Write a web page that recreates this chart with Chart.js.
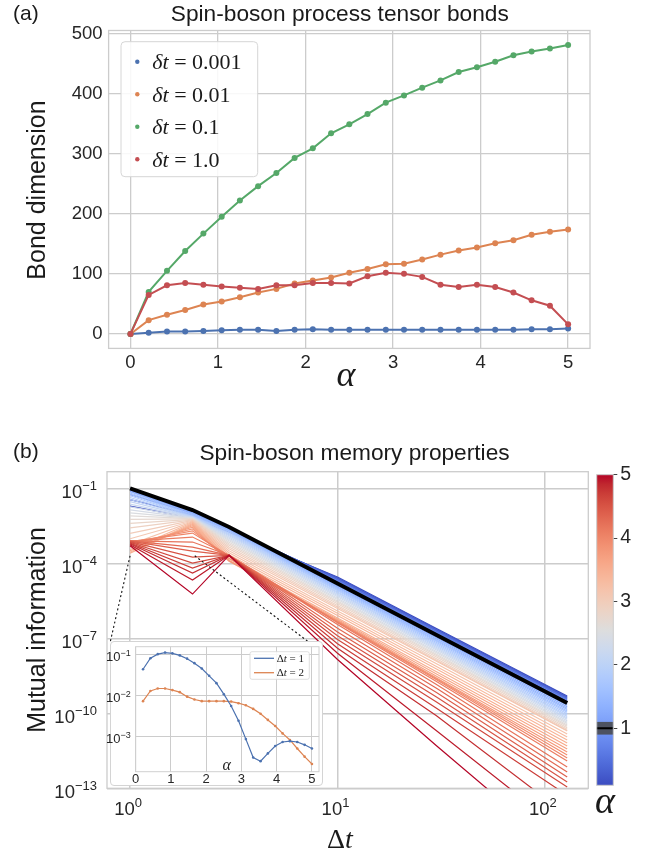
<!DOCTYPE html>
<html>
<head>
<meta charset="utf-8">
<title>Spin-boson process tensor</title>
<script src="https://cdn.jsdelivr.net/npm/chart.js@4.4.1/dist/chart.umd.min.js"></script>
<style>
  html, body { margin: 0; padding: 0; background: #fff; }
  body { position: relative; width: 652px; height: 860px; overflow: hidden; color: #1a1a1a; }
  canvas { position: absolute; }
  .txt { position: absolute; white-space: nowrap; }
  #insetBox { position: absolute; left: 110px; top: 641px; width: 213px; height: 145px;
              background: #fff; border: 1px solid #d4d4d4; border-radius: 4px; box-sizing: border-box; }
</style>
</head>
<body>
<canvas id="bondChart" width="652" height="400" style="left:0;top:0"></canvas>
<canvas id="memoryChart" width="652" height="440" style="left:0;top:420px"></canvas>
<canvas id="alphaBar" width="62" height="340" style="left:590px;top:460px"></canvas>
<div id="insetBox"></div>
<canvas id="insetChart" width="219" height="145" style="left:104px;top:641px"></canvas>

<script>
// ---------- panel (a): bond dimensions ----------
const alphaBond = [0, 0.208, 0.417, 0.625, 0.833, 1.042, 1.25, 1.458, 1.667, 1.875, 2.083, 2.292, 2.5,
                   2.708, 2.917, 3.125, 3.333, 3.542, 3.75, 3.958, 4.167, 4.375, 4.583, 4.792, 5.0];
const bondDt0001 = [0, 2, 4, 4, 5, 6, 7, 7, 5, 7, 8, 7, 7, 7, 7, 7, 7, 7, 7, 7, 7, 7, 8, 8, 9];
const bondDt001  = [0, 23, 32, 40, 49, 54, 61, 69, 75, 84, 89, 94, 102, 108, 116, 117, 124, 132, 139, 144, 151, 156, 165, 170, 174];
const bondDt01   = [0, 70, 105, 138, 167, 195, 222, 246, 268, 293, 309, 334, 349, 366, 385, 397, 410, 422, 436, 444, 453, 464, 470, 475, 481];
const bondDt1    = [0, 65, 81, 85, 82, 79, 77, 75, 81, 81, 85, 85, 84, 96, 102, 100, 95, 82, 78, 82, 78, 69, 56, 47, 16];
const bondLabels = ['0.001', '0.01', '0.1', '1.0'];
const bondTicksX = [0, 1, 2, 3, 4, 5];
const bondTicksY = [0, 100, 200, 300, 400, 500];

// ---------- panel (b): mutual information vs Δt, one line per α (log10 values) ----------
const alphaLines = [0.1, 0.2, 0.3, 0.4, 0.5, 0.6, 0.7, 0.8, 0.9, 1.0,
                    1.1, 1.2, 1.3, 1.4, 1.5, 1.6, 1.7, 1.8, 1.9, 2.0,
                    2.1, 2.2, 2.3, 2.4, 2.5, 2.6, 2.7, 2.8, 2.9, 3.0,
                    3.1, 3.2, 3.3, 3.4, 3.5, 3.6, 3.7, 3.8, 3.9, 4.0,
                    4.1, 4.2, 4.3, 4.4, 4.5, 4.6, 4.7, 4.8, 4.9, 5.0];
const deltaT = [1, 2, 3, 10, 30, 128];
const logMI_dt1 = [-1.71, -1.45, -1.25, -1.12, -1.05, -1.02, -1.01, -1.00, -1.00, -1.00,
                   -1.02, -1.04, -1.07, -1.10, -1.14, -1.19, -1.24, -1.30, -1.37, -1.45,
                   -1.53, -1.63, -1.74, -1.86, -1.98, -2.10, -2.24, -2.40, -2.58, -2.80,
                   -3.02, -3.25, -3.45, -3.56, -3.60, -3.50, -3.35, -3.25, -3.17, -3.13,
                   -3.11, -3.10, -3.10, -3.11, -3.13, -3.16, -3.19, -3.22, -3.26, -3.30];
const logMI_dt2 = [-2.19, -2.07, -1.99, -1.95, -1.92, -1.90, -1.89, -1.88, -1.87, -1.87,
                   -1.90, -1.93, -1.97, -2.00, -2.04, -2.07, -2.10, -2.12, -2.14, -2.15,
                   -2.16, -2.17, -2.18, -2.19, -2.20, -2.21, -2.22, -2.24, -2.26, -2.28,
                   -2.31, -2.34, -2.37, -2.41, -2.45, -2.50, -2.56, -2.62, -2.70, -2.79,
                   -2.95, -3.15, -3.35, -3.51, -3.75, -3.99, -4.19, -4.39, -4.67, -5.23];
const logMI_dt3 = [-2.75, -2.68, -2.63, -2.60, -2.58, -2.57, -2.56, -2.56, -2.55, -2.55,
                   -2.58, -2.60, -2.62, -2.65, -2.68, -2.71, -2.74, -2.78, -2.82, -2.86,
                   -2.90, -2.95, -3.00, -3.05, -3.10, -3.16, -3.22, -3.28, -3.35, -3.42,
                   -3.50, -3.58, -3.66, -3.74, -3.82, -3.88, -3.92, -3.90, -3.80, -3.70,
                   -3.68, -3.68, -3.68, -3.68, -3.68, -3.68, -3.68, -3.68, -3.68, -3.68];
const logMI_dt10 = [-4.55, -4.58, -4.61, -4.64, -4.67, -4.70, -4.73, -4.76, -4.79, -4.81,
                    -4.84, -4.87, -4.91, -4.95, -4.98, -5.02, -5.06, -5.10, -5.15, -5.19,
                    -5.24, -5.29, -5.34, -5.40, -5.45, -5.51, -5.56, -5.62, -5.69, -5.75,
                    -5.81, -5.91, -6.00, -6.09, -6.19, -6.24, -6.28, -6.31, -6.33, -6.35,
                    -6.38, -6.45, -6.60, -6.75, -6.90, -7.05, -7.22, -7.40, -7.60, -7.85];
const logMI_dt30 = [-6.61, -6.64, -6.67, -6.70, -6.73, -6.76, -6.79, -6.82, -6.85, -6.87,
                    -6.90, -6.94, -6.98, -7.03, -7.08, -7.12, -7.17, -7.22, -7.27, -7.32,
                    -7.37, -7.42, -7.47, -7.53, -7.58, -7.64, -7.69, -7.75, -7.82, -7.88,
                    -7.92, -8.02, -8.13, -8.23, -8.34, -8.43, -8.52, -8.59, -8.62, -8.66,
                    -8.73, -8.85, -9.00, -9.17, -9.35, -9.55, -9.80, -10.10, -10.70, -11.30];
const logMI_dt128 = [-9.31, -9.34, -9.37, -9.40, -9.43, -9.46, -9.50, -9.53, -9.56, -9.59,
                     -9.63, -9.68, -9.74, -9.80, -9.85, -9.91, -9.96, -10.02, -10.08, -10.13,
                     -10.19, -10.24, -10.30, -10.36, -10.41, -10.47, -10.52, -10.58, -10.64, -10.69,
                     -10.71, -10.83, -10.95, -11.07, -11.19, -11.31, -11.43, -11.55, -11.67, -11.79,
                     -11.91, -12.15, -12.35, -12.55, -12.75, -12.95, -13.28, -14.07, -14.82, -15.73];
const memTicksX = [1, 10, 100];
const memTicksY = [1e-13, 1e-10, 1e-7, 1e-4, 1e-1];
const highlightAlpha = 1.0;

// ---------- inset: MI vs α at Δt = 1, 2 (log10 values) ----------
const alphaInset = [0.208, 0.417, 0.625, 0.833, 1.042, 1.25, 1.458, 1.667, 1.875, 2.083, 2.292, 2.5,
                    2.708, 2.917, 3.125, 3.333, 3.542, 3.75, 3.958, 4.167, 4.375, 4.583, 4.792, 5.0];
const logInsetDt1 = [-1.35, -1.08, -0.98, -0.94, -0.96, -1.01, -1.09, -1.20, -1.33, -1.51, -1.69, -1.96,
                     -2.25, -2.61, -3.06, -3.51, -3.60, -3.41, -3.23, -3.13, -3.11, -3.13, -3.20, -3.29];
const logInsetDt2 = [-2.13, -1.88, -1.82, -1.82, -1.86, -1.91, -2.02, -2.09, -2.13, -2.13, -2.13, -2.13,
                     -2.14, -2.18, -2.23, -2.32, -2.44, -2.59, -2.74, -2.92, -3.08, -3.29, -3.49, -3.67];
const insetTicksX = [0, 1, 2, 3, 4, 5];
const insetTicksY = [1e-3, 1e-2, 1e-1];
const colorbarTicks = [1, 2, 3, 4, 5];

// ---------- styling helpers ----------
const SANS = '"Liberation Sans", Arial, Helvetica, sans-serif';
const SERIF = '"Liberation Serif", "Times New Roman", serif';
const GRID = '#cccccc';
const INK = '#262626';
const deep = { blue: '#4c72b0', orange: '#dd8452', green: '#55a868', red: '#c44e52' };

// matplotlib coolwarm, 33 stops
const coolwarmStops = [
  [59,76,192],[68,90,204],[77,104,215],[87,117,225],[98,130,234],[108,142,241],[119,154,247],[130,165,251],
  [141,176,254],[152,185,255],[163,194,255],[174,201,253],[184,208,249],[194,213,244],[204,217,238],[213,219,230],
  [221,221,221],[229,216,209],[236,211,197],[241,204,185],[245,196,173],[247,187,160],[247,177,148],[247,166,135],
  [244,154,123],[241,141,111],[236,127,99],[229,112,88],[222,96,77],[213,80,66],[203,62,56],[192,40,47],[180,4,38]
];
function coolwarm(t) {
  t = Math.min(1, Math.max(0, t));
  const p = t * (coolwarmStops.length - 1);
  const i = Math.min(Math.floor(p), coolwarmStops.length - 2);
  const f = p - i;
  const a = coolwarmStops[i], b = coolwarmStops[i + 1];
  const c = a.map((v, k) => Math.round(v + (b[k] - v) * f));
  return `rgb(${c[0]},${c[1]},${c[2]})`;
}
const alphaMin = 0.1, alphaMax = 5;

// html text placed by baseline
function addText(html, x, baseline, size, opts = {}) {
  const d = document.createElement('div');
  d.className = 'txt';
  d.innerHTML = html;
  const serif = !!opts.serif;
  d.style.fontFamily = serif ? SERIF : SANS;
  d.style.fontSize = size + 'px';
  d.style.lineHeight = size + 'px';
  d.style.color = opts.color || '#1a1a1a';
  d.style.top = (baseline - size * (serif ? 0.8375 : 0.8465)) + 'px';
  d.style.left = x + 'px';
  if (opts.center) d.style.transform = 'translateX(-50%)';
  document.body.appendChild(d);
}
function addVText(text, cx, cy, size) {
  const d = document.createElement('div');
  d.className = 'txt';
  d.textContent = text;
  d.style.fontFamily = SANS;
  d.style.fontSize = size + 'px';
  d.style.lineHeight = size + 'px';
  d.style.left = cx + 'px';
  d.style.top = cy + 'px';
  d.style.transform = 'translate(-50%, -50%) rotate(-90deg)';
  document.body.appendChild(d);
}

// "10" with a superscript exponent
function drawPow(ctx, exp, x, baseline, align, big, small, raise) {
  ctx.font = `${big}px ${SANS}`;
  const w1 = ctx.measureText('10').width;
  ctx.font = `${small}px ${SANS}`;
  const expText = exp < 0 ? '\u2212' + Math.abs(exp) : String(exp);
  const w2 = ctx.measureText(expText).width;
  let x0 = x;
  if (align === 'right') x0 = x - w1 - w2;
  if (align === 'center') x0 = x - (w1 + w2) / 2;
  ctx.textAlign = 'left';
  ctx.textBaseline = 'alphabetic';
  ctx.font = `${big}px ${SANS}`;
  ctx.fillText('10', x0, baseline);
  ctx.font = `${small}px ${SANS}`;
  ctx.fillText(expText, x0 + w1, baseline - raise);
}

const framePlugin = {
  id: 'frame',
  beforeDatasetsDraw(chart, args, opts) {
    const { ctx, chartArea: a } = chart;
    ctx.save();
    ctx.strokeStyle = opts.color || GRID;
    ctx.lineWidth = opts.width || 1.3;
    ctx.strokeRect(a.left, a.top, a.right - a.left, a.bottom - a.top);
    ctx.restore();
  }
};

// ---------- chart (a) ----------
const bondSeries = [
  { values: bondDt0001, color: deep.blue },
  { values: bondDt001, color: deep.orange },
  { values: bondDt01, color: deep.green },
  { values: bondDt1, color: deep.red }
];

const bondLegend = {
  id: 'bondLegend',
  afterDraw(chart) {
    const ctx = chart.ctx;
    ctx.save();
    ctx.beginPath();
    ctx.roundRect(121, 41.7, 136.7, 135, 4);
    ctx.fillStyle = 'rgba(255,255,255,0.85)';
    ctx.fill();
    ctx.strokeStyle = '#d6d6d6';
    ctx.lineWidth = 1;
    ctx.stroke();
    bondSeries.forEach((s, i) => {
      const y = 61.7 + i * 32.5;
      ctx.beginPath();
      ctx.arc(137.3, y, 2.2, 0, Math.PI * 2);
      ctx.fillStyle = s.color;
      ctx.fill();
      ctx.fillStyle = '#1a1a1a';
      ctx.textBaseline = 'alphabetic';
      ctx.textAlign = 'left';
      ctx.font = `italic 22px ${SERIF}`;
      ctx.fillText('\u03b4t', 152.3, y + 7.5);
      const w = ctx.measureText('\u03b4t').width;
      ctx.font = `22px ${SERIF}`;
      ctx.fillText(' = ' + bondLabels[i], 152.3 + w, y + 7.5);
    });
    ctx.restore();
  }
};

new Chart(document.getElementById('bondChart'), {
  type: 'line',
  data: {
    labels: alphaBond,
    datasets: bondSeries.map((s, i) => ({
      data: alphaBond.map((a, k) => ({ x: a, y: s.values[k] })),
      borderColor: s.color,
      backgroundColor: s.color,
      borderWidth: 2,
      pointRadius: 3,
      pointBorderWidth: 0,
      pointHoverRadius: 3,
      tension: 0,
      order: 4 - i
    }))
  },
  options: {
    responsive: false,
    animation: false,
    events: [],
    layout: { padding: { top: 30.5, right: 62, left: 0, bottom: 0 } },
    plugins: { legend: { display: false }, tooltip: { enabled: false }, frame: { color: GRID } },
    scales: {
      x: {
        type: 'linear', min: -0.25, max: 5.25,
        afterBuildTicks: s => { s.ticks = bondTicksX.map(v => ({ value: v })); },
        afterFit: s => { s.height = 51.6; },
        grid: { color: GRID, lineWidth: 1.3, drawTicks: false },
        border: { display: false },
        ticks: { color: INK, font: { family: SANS, size: 18.5 }, padding: 3.5 }
      },
      y: {
        type: 'linear', min: -24.05, max: 505.1,
        afterBuildTicks: s => { s.ticks = bondTicksY.map(v => ({ value: v })); },
        afterFit: s => { s.width = 108.6; },
        grid: { color: GRID, lineWidth: 1.3, drawTicks: false },
        border: { display: false },
        ticks: { color: INK, font: { family: SANS, size: 18.5 }, padding: 6 }
      }
    }
  },
  plugins: [framePlugin, bondLegend]
});

// ---------- chart (b) ----------
const memLogRows = [logMI_dt1, logMI_dt2, logMI_dt3, logMI_dt10, logMI_dt30, logMI_dt128];
const memDatasets = alphaLines.map((a, j) => {
  const isHighlight = Math.abs(a - highlightAlpha) < 1e-9;
  return {
    data: deltaT.map((t, i) => ({ x: t, y: Math.pow(10, memLogRows[i][j]) })),
    borderColor: isHighlight ? '#000000' : coolwarm((a - alphaMin) / (alphaMax - alphaMin)),
    borderWidth: isHighlight ? 4 : 1.2,
    pointRadius: 0,
    tension: 0,
    order: isHighlight ? -1 : 100 - j
  };
});

const memCanvasTop = 420;
const memDecor = {
  id: 'memDecor',
  afterDatasetsDraw(chart) {
    const { ctx, scales } = chart;
    ctx.save();
    ctx.setLineDash([2, 2.5]);
    ctx.strokeStyle = '#111';
    ctx.lineWidth = 1.1;
    const p1x = scales.x.getPixelForValue(1), p1y = scales.y.getPixelForValue(2e-4);
    const p2x = scales.x.getPixelForValue(2.05), p2y = scales.y.getPixelForValue(2e-4);
    ctx.beginPath();
    ctx.moveTo(p1x, p1y); ctx.lineTo(110, 643 - memCanvasTop);
    ctx.moveTo(p2x, p2y); ctx.lineTo(310, 643 - memCanvasTop);
    ctx.stroke();
    ctx.restore();
  },
  afterDraw(chart) {
    const { ctx, scales, chartArea } = chart;
    ctx.save();
    ctx.fillStyle = INK;
    memTicksY.forEach(v => {
      const y = scales.y.getPixelForValue(v);
      drawPow(ctx, Math.round(Math.log10(v)), chartArea.left - 10, y + 10, 'right', 18.5, 13, 8.3);
    });
    memTicksX.forEach(v => {
      const x = scales.x.getPixelForValue(v);
      drawPow(ctx, Math.round(Math.log10(v)), x - 2, chartArea.bottom + 26.7, 'center', 18.5, 13, 8.3);
    });
    ctx.restore();
  }
};

new Chart(document.getElementById('memoryChart'), {
  type: 'line',
  data: { datasets: memDatasets },
  options: {
    responsive: false,
    animation: false,
    events: [],
    layout: { padding: { top: 51.7, right: 63.7, left: 0, bottom: 0 } },
    plugins: { legend: { display: false }, tooltip: { enabled: false }, frame: { color: GRID } },
    scales: {
      x: {
        type: 'logarithmic', min: 0.774, max: 161.8,
        afterBuildTicks: s => { s.ticks = memTicksX.map(v => ({ value: v })); },
        afterFit: s => { s.height = 71.7; },
        grid: { color: GRID, lineWidth: 1.5, drawTicks: false },
        border: { display: false },
        ticks: { display: false }
      },
      y: {
        type: 'logarithmic', min: 1e-13, max: 0.461,
        afterBuildTicks: s => { s.ticks = memTicksY.map(v => ({ value: v })); },
        afterFit: s => { s.width = 107; },
        grid: { color: GRID, lineWidth: 1.5, drawTicks: false },
        border: { display: false },
        ticks: { display: false }
      }
    }
  },
  plugins: [framePlugin, memDecor]
});

// ---------- colorbar ----------
const colorbarFill = {
  id: 'colorbarFill',
  beforeDatasetsDraw(chart) {
    const { ctx, chartArea: a, scales } = chart;
    ctx.save();
    const g = ctx.createLinearGradient(0, a.bottom, 0, a.top);
    coolwarmStops.forEach((c, i) => g.addColorStop(i / (coolwarmStops.length - 1), `rgb(${c[0]},${c[1]},${c[2]})`));
    ctx.fillStyle = g;
    ctx.fillRect(a.left, a.top, a.right - a.left, a.bottom - a.top);
    const yHi = scales.y.getPixelForValue(highlightAlpha + 0.1);
    const yLo = scales.y.getPixelForValue(highlightAlpha - 0.1);
    ctx.fillStyle = 'rgba(70,70,70,0.85)';
    ctx.fillRect(a.left, yHi, a.right - a.left, yLo - yHi);
    const y1 = scales.y.getPixelForValue(highlightAlpha);
    ctx.fillStyle = '#000';
    ctx.fillRect(a.left, y1 - 1, a.right - a.left, 2);
    ctx.strokeStyle = GRID;
    ctx.lineWidth = 1;
    ctx.strokeRect(a.left, a.top, a.right - a.left, a.bottom - a.top);
    ctx.restore();
  }
};

new Chart(document.getElementById('alphaBar'), {
  type: 'scatter',
  data: { datasets: [{ data: [] }] },
  options: {
    responsive: false,
    animation: false,
    events: [],
    layout: { padding: { top: 11.7, left: 6.7, bottom: 11.7, right: 0 } },
    plugins: { legend: { display: false }, tooltip: { enabled: false } },
    scales: {
      x: { display: false, min: 0, max: 1 },
      y: {
        position: 'right', min: alphaMin, max: alphaMax,
        afterBuildTicks: s => { s.ticks = colorbarTicks.map(v => ({ value: v })); },
        afterFit: s => { s.width = 38.7; },
        grid: { drawOnChartArea: false, drawTicks: true, tickLength: 4, tickColor: '#444', tickWidth: 1 },
        border: { display: false },
        ticks: { color: INK, font: { family: SANS, size: 19.5 }, padding: 3 }
      }
    }
  },
  plugins: [colorbarFill]
});

// ---------- inset ----------
const insetDecor = {
  id: 'insetDecor',
  afterDraw(chart) {
    const { ctx, scales, chartArea } = chart;
    ctx.save();
    ctx.fillStyle = INK;
    insetTicksY.forEach(v => {
      const y = scales.y.getPixelForValue(v);
      drawPow(ctx, Math.round(Math.log10(v)), chartArea.left - 5, y + 6.3, 'right', 13, 9, 4.8);
    });
    ctx.font = `13px ${SANS}`;
    ctx.textAlign = 'center';
    ctx.textBaseline = 'alphabetic';
    insetTicksX.forEach(v => ctx.fillText(String(v), scales.x.getPixelForValue(v), 141.7));
    ctx.font = `italic 16px ${SERIF}`;
    ctx.fillText('\u03b1', 122.7, 129);
    // legend
    ctx.beginPath();
    ctx.roundRect(146, 10.7, 59.3, 27.6, 2);
    ctx.fillStyle = 'rgba(255,255,255,0.85)';
    ctx.fill();
    ctx.strokeStyle = '#d6d6d6';
    ctx.lineWidth = 0.8;
    ctx.stroke();
    [[deep.blue, '1', 17.3], [deep.orange, '2', 31.7]].forEach(([c, lab, y]) => {
      ctx.strokeStyle = c;
      ctx.lineWidth = 1.3;
      ctx.beginPath(); ctx.moveTo(150, y); ctx.lineTo(170, y); ctx.stroke();
      ctx.fillStyle = '#1a1a1a';
      ctx.textAlign = 'left';
      ctx.font = `11px ${SERIF}`;
      ctx.fillText('\u0394', 172.7, y + 3.5);
      let x = 172.7 + ctx.measureText('\u0394').width;
      ctx.font = `italic 11px ${SERIF}`;
      ctx.fillText('t', x, y + 3.5);
      x += ctx.measureText('t').width;
      ctx.font = `11px ${SERIF}`;
      ctx.fillText(' = ' + lab, x, y + 3.5);
    });
    ctx.restore();
  }
};

new Chart(document.getElementById('insetChart'), {
  type: 'line',
  data: {
    datasets: [
      { values: logInsetDt1, color: deep.blue },
      { values: logInsetDt2, color: deep.orange }
    ].map(s => ({
      data: alphaInset.map((a, k) => ({ x: a, y: Math.pow(10, s.values[k]) })),
      borderColor: s.color,
      backgroundColor: s.color,
      borderWidth: 1.2,
      pointRadius: 1.3,
      pointBorderWidth: 0,
      tension: 0
    }))
  },
  options: {
    responsive: false,
    animation: false,
    events: [],
    layout: { padding: { top: 5.7, right: 3, left: 0, bottom: 0 } },
    plugins: { legend: { display: false }, tooltip: { enabled: false }, frame: { color: '#d0d0d0', width: 1 } },
    scales: {
      x: {
        type: 'linear', min: 0, max: 5.2,
        afterBuildTicks: s => { s.ticks = insetTicksX.map(v => ({ value: v })); },
        afterFit: s => { s.height = 14.3; },
        grid: { color: GRID, lineWidth: 1, drawTicks: false },
        border: { display: false },
        ticks: { display: false }
      },
      y: {
        type: 'logarithmic', min: Math.pow(10, -3.858), max: Math.pow(10, -0.797),
        afterBuildTicks: s => { s.ticks = insetTicksY.map(v => ({ value: v })); },
        afterFit: s => { s.width = 31.7; },
        grid: { color: GRID, lineWidth: 1, drawTicks: false },
        border: { display: false },
        ticks: { display: false }
      }
    }
  },
  plugins: [framePlugin, insetDecor]
});

// ---------- titles and axis labels ----------
addText('(a)', 13, 20, 21);
addText('Spin-boson process tensor bonds', 339.8, 21.7, 22.7, { center: true });
addVText('Bond dimension', 36, 189.5, 25);
addText('<i>\u03b1</i>', 346, 386, 36, { serif: true, center: true });

addText('(b)', 13, 458, 21);
addText('Spin-boson memory properties', 354.5, 460, 22.7, { center: true });
addVText('Mutual information', 36, 630, 25);
addText('\u0394<i>t</i>', 340, 848, 28, { serif: true, center: true });
addText('<i>\u03b1</i>', 605, 813, 38, { serif: true, center: true });
</script>
</body>
</html>
